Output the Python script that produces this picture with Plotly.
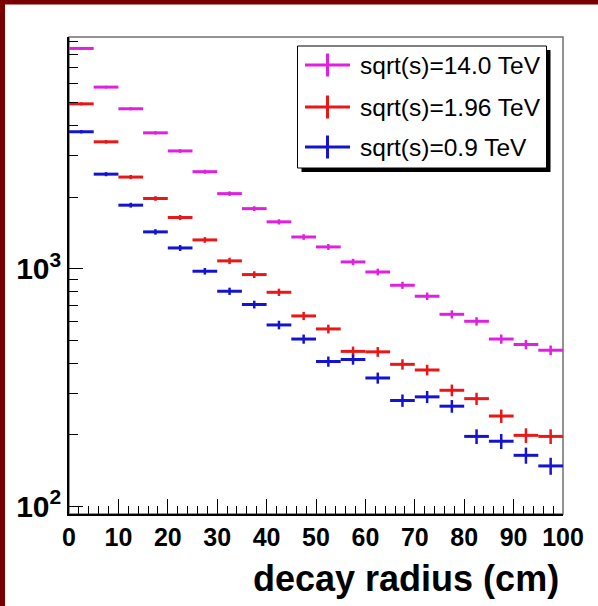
import plotly.graph_objects as go

# ---- data ----
bin_centers = [2.5, 7.5, 12.5, 17.5, 22.5, 27.5, 32.5, 37.5, 42.5, 47.5,
               52.5, 57.5, 62.5, 67.5, 72.5, 77.5, 82.5, 87.5, 92.5, 97.5]
y_14tev = [8450, 5810, 4710, 3730, 3130, 2560, 2070, 1790, 1575, 1360,
           1235, 1068, 969, 852, 766, 643, 601, 506, 480, 454]
y_196tev = [4940, 3420, 2430, 1975, 1643, 1322, 1079, 945, 796, 633,
            558, 449, 447, 396, 375, 308, 284, 240, 199, 197]
y_09tev = [3770, 2500, 1851, 1429, 1223, 976, 804, 707, 580, 506,
           407, 415, 347, 279, 289, 264, 197, 188, 164, 148]
series_names = ["sqrt(s)=14.0 TeV", "sqrt(s)=1.96 TeV", "sqrt(s)=0.9 TeV"]
series_colors = ["#e020e0", "#e81818", "#1414d0"]
x_ticks = [0, 10, 20, 30, 40, 50, 60, 70, 80, 90, 100]
y_ticks = [100, 1000]
y_ticktext = ["10<sup>2</sup>", "10<sup>3</sup>"]
y_minor = [200, 300, 400, 500, 600, 700, 800, 900,
           2000, 3000, 4000, 5000, 6000, 7000, 8000, 9000]

# ---- geometry (pixels) ----
W, H = 598, 606
L, R, T, B = 69, 563, 37, 514


def px(x):
    return (x - L) / (R - L)


def py(y):
    return (B - y) / (B - T)


fig = go.Figure()
for ys, name, col in zip([y_14tev, y_196tev, y_09tev], series_names, series_colors):
    fig.add_trace(go.Scatter(
        x=bin_centers, y=ys, mode="markers", name=name,
        marker=dict(size=2, color=col),
        error_x=dict(type="constant", value=2.5, width=0, thickness=3, color=col),
        error_y=dict(type="sqrt", width=0, thickness=2.5, color=col),
        showlegend=False,
    ))

font_fam = "Liberation Sans, Arial, sans-serif"

shapes = []
# dark red page border (top and left)
shapes.append(dict(type="rect", xref="paper", yref="paper",
                   x0=px(0), x1=px(W), y0=py(4.5), y1=py(0),
                   fillcolor="#7a0000", line=dict(width=0), layer="above"))
shapes.append(dict(type="rect", xref="paper", yref="paper",
                   x0=px(0), x1=px(5), y0=py(H), y1=py(0),
                   fillcolor="#7a0000", line=dict(width=0), layer="above"))
# frame
shapes.append(dict(type="rect", xref="paper", yref="paper",
                   x0=0, x1=1, y0=0, y1=1,
                   line=dict(color="#707070", width=1.5), layer="below"))
# legend shadow and box
lx0, lx1, ly0, ly1 = 297.5, 546.5, 46, 168
shapes.append(dict(type="rect", xref="paper", yref="paper",
                   x0=px(lx0 + 4), x1=px(lx1 + 4), y0=py(ly1 + 4), y1=py(ly0 + 4),
                   fillcolor="black", line=dict(width=0), layer="above"))
shapes.append(dict(type="rect", xref="paper", yref="paper",
                   x0=px(lx0), x1=px(lx1), y0=py(ly1), y1=py(ly0),
                   fillcolor="white", line=dict(color="black", width=1), layer="above"))

annotations = []
entry_y = [65, 107, 147]
for yy, name, col in zip(entry_y, series_names, series_colors):
    shapes.append(dict(type="line", xref="paper", yref="paper",
                       x0=px(305), x1=px(350), y0=py(yy), y1=py(yy),
                       line=dict(color=col, width=3), layer="above"))
    shapes.append(dict(type="line", xref="paper", yref="paper",
                       x0=px(327.5), x1=px(327.5), y0=py(yy - 11.5), y1=py(yy + 11.5),
                       line=dict(color=col, width=3), layer="above"))
    annotations.append(dict(xref="paper", yref="paper", x=px(358), y=py(yy),
                            xanchor="left", yanchor="middle", showarrow=False,
                            text=name, font=dict(family=font_fam, size=24.5, color="black")))

# x axis title (ROOT style, right aligned)
annotations.append(dict(xref="paper", yref="paper", x=px(561), y=py(578),
                        xanchor="right", yanchor="middle", showarrow=False,
                        text="<b>decay radius (cm)</b>",
                        font=dict(family=font_fam, size=36, color="black")))

fig.update_layout(
    width=W, height=H,
    margin=dict(l=L, r=W - R, t=T, b=H - B, pad=0),
    paper_bgcolor="white", plot_bgcolor="white",
    showlegend=False,
    shapes=shapes, annotations=annotations,
    xaxis=dict(range=[0, 100], tickmode="array", tickvals=x_ticks,
               ticks="inside", ticklen=15, tickwidth=1, tickcolor="black",
               minor=dict(ticks="inside", ticklen=8, tickwidth=1, tickcolor="black",
                          dtick=2, tick0=0),
               showline=True, linecolor="black", linewidth=1.5,
               showgrid=False, zeroline=False,
               tickfont=dict(family=font_fam, size=25, color="black", weight="bold")),
    yaxis=dict(type="log", range=[1.968, 3.975], tickmode="array",
               tickvals=y_ticks, ticktext=y_ticktext,
               ticks="inside", ticklen=14, tickwidth=1, tickcolor="black",
               minor=dict(ticks="inside", ticklen=9, tickwidth=1, tickcolor="black",
                          tickmode="array", tickvals=y_minor),
               showline=True, linecolor="black", linewidth=1.5,
               showgrid=False, zeroline=False,
               tickfont=dict(family=font_fam, size=30, color="black", weight="bold")),
)

fig.write_html("out.html")
